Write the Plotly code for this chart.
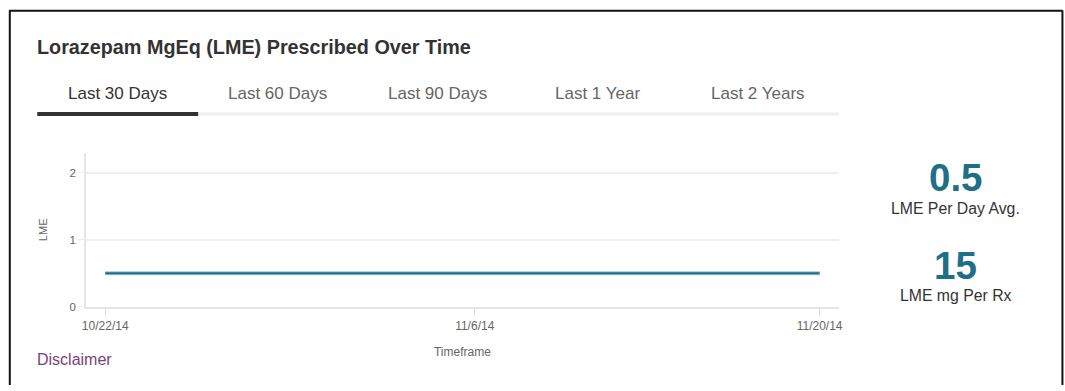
import plotly.graph_objects as go

W, H = 1065, 391

# Daily LME values over the last 30 days
dates = [
    "2014-10-22", "2014-10-23", "2014-10-24", "2014-10-25", "2014-10-26",
    "2014-10-27", "2014-10-28", "2014-10-29", "2014-10-30", "2014-10-31",
    "2014-11-01", "2014-11-02", "2014-11-03", "2014-11-04", "2014-11-05",
    "2014-11-06", "2014-11-07", "2014-11-08", "2014-11-09", "2014-11-10",
    "2014-11-11", "2014-11-12", "2014-11-13", "2014-11-14", "2014-11-15",
    "2014-11-16", "2014-11-17", "2014-11-18", "2014-11-19", "2014-11-20",
]
lme = [0.5, 0.5, 0.5, 0.5, 0.5, 0.5, 0.5, 0.5, 0.5, 0.5,
       0.5, 0.5, 0.5, 0.5, 0.5, 0.5, 0.5, 0.5, 0.5, 0.5,
       0.5, 0.5, 0.5, 0.5, 0.5, 0.5, 0.5, 0.5, 0.5, 0.5]

tick_dates = ["2014-10-22", "2014-11-06", "2014-11-20"]
tick_labels = ["10/22/14", "11/6/14", "11/20/14"]
y_ticks = [0, 1, 2]

tabs = ["Last 30 Days", "Last 60 Days", "Last 90 Days", "Last 1 Year", "Last 2 Years"]
tab_centers = [116, 276, 437, 597, 757]

stat_values = ["0.5", "15"]
stat_labels = ["LME Per Day Avg.", "LME mg Per Rx"]

title = "Lorazepam MgEq (LME) Prescribed Over Time"

FONT = "Liberation Sans, Arial, sans-serif"
TEAL = "#1f6f87"

# page-to-paper calibration (the rendered page is slightly wider/taller than the figure)
SX, OX = 0.9933, 2.7
SY, OY = 0.9867, -0.3


def px(x):
    return (x - OX) / SX / W


def py(y):
    return 1 - (y - OY) / SY / H


fig = go.Figure()
# soft halo under the line
fig.add_trace(go.Scatter(x=dates, y=lme, mode="lines",
                         line=dict(color="#9cc6d1", width=4),
                         hoverinfo="skip", showlegend=False))
fig.add_trace(go.Scatter(x=dates, y=lme, mode="lines",
                         line=dict(color=TEAL, width=2),
                         showlegend=False))

# plot area in page pixels
left, right, top, bottom = 85, 838, 153, 307
unit = 67.0  # page pixels per LME unit

fig.update_layout(
    width=W, height=H,
    margin=dict(l=0, r=0, t=0, b=0),
    paper_bgcolor="white", plot_bgcolor="white",
    font=dict(family=FONT, color="#666"),
    xaxis=dict(
        domain=[px(left), px(right)],
        type="date",
        range=["2014-10-21 05:30", "2014-11-20 18:30"],
        tickvals=tick_dates, ticktext=tick_labels,
        tickfont=dict(size=12, color="#666"),
        ticks="outside", ticklen=7, tickcolor="#dddddd", tickwidth=1,
        showline=True, linecolor="#e6e6e6", linewidth=2,
        showgrid=False, zeroline=False,
        title=dict(text="Timeframe", font=dict(size=12, color="#666"), standoff=16),
    ),
    yaxis=dict(
        domain=[py(bottom), py(top)],
        range=[0, (bottom - top) / unit],
        tickvals=y_ticks,
        tickfont=dict(size=11.5, color="#666"),
        ticks="outside", ticklen=6, tickcolor="#eeeeee",
        showline=True, linecolor="#e6e6e6", linewidth=2,
        showgrid=True, gridcolor="#f0f0f0", gridwidth=2,
        zeroline=False,
        title=dict(text="LME", font=dict(size=11, color="#666"), standoff=20),
    ),
)

shapes = [
    # card border
    dict(type="line", xref="paper", yref="paper", x0=px(8.5), x1=px(8.5), y0=0, y1=py(10),
         line=dict(color="#111", width=2)),
    dict(type="line", xref="paper", yref="paper", x0=px(8), x1=px(1062), y0=py(10.5), y1=py(10.5),
         line=dict(color="#111", width=2)),
    dict(type="line", xref="paper", yref="paper", x0=px(1062), x1=px(1062), y0=0, y1=py(10),
         line=dict(color="#111", width=2)),
    # tab strip
    dict(type="line", xref="paper", yref="paper", x0=px(197), x1=px(838), y0=py(114), y1=py(114),
         line=dict(color="#eeeeee", width=3)),
    dict(type="line", xref="paper", yref="paper", x0=px(36), x1=px(197), y0=py(114), y1=py(114),
         line=dict(color="#333333", width=4)),
]

annotations = [
    dict(text=f"<b>{title}</b>", x=px(34), y=py(47), xanchor="left", yanchor="middle",
         font=dict(size=19.8, color="#333", family=FONT)),
    dict(text="Disclaimer", x=px(34), y=py(360), xanchor="left", yanchor="middle",
         font=dict(size=16, color="#7b3f78", family=FONT)),
]
for i, (t, cx) in enumerate(zip(tabs, tab_centers)):
    annotations.append(dict(text=t, x=px(cx), y=py(93), xanchor="center", yanchor="middle",
                            font=dict(size=17, color="#333" if i == 0 else "#666", family=FONT)))

for v, lab, vy, ly in zip(stat_values, stat_labels, [178, 266], [209, 296]):
    annotations.append(dict(text=f"<b>{v}</b>", x=px(955), y=py(vy), xanchor="center", yanchor="middle",
                            font=dict(size=38.5, color=TEAL, family=FONT)))
    annotations.append(dict(text=lab, x=px(955), y=py(ly), xanchor="center", yanchor="middle",
                            font=dict(size=15.8, color="#333", family=FONT)))

for a in annotations:
    a.update(xref="paper", yref="paper", showarrow=False)

fig.update_layout(shapes=shapes, annotations=annotations)

fig.write_html("out.html")
